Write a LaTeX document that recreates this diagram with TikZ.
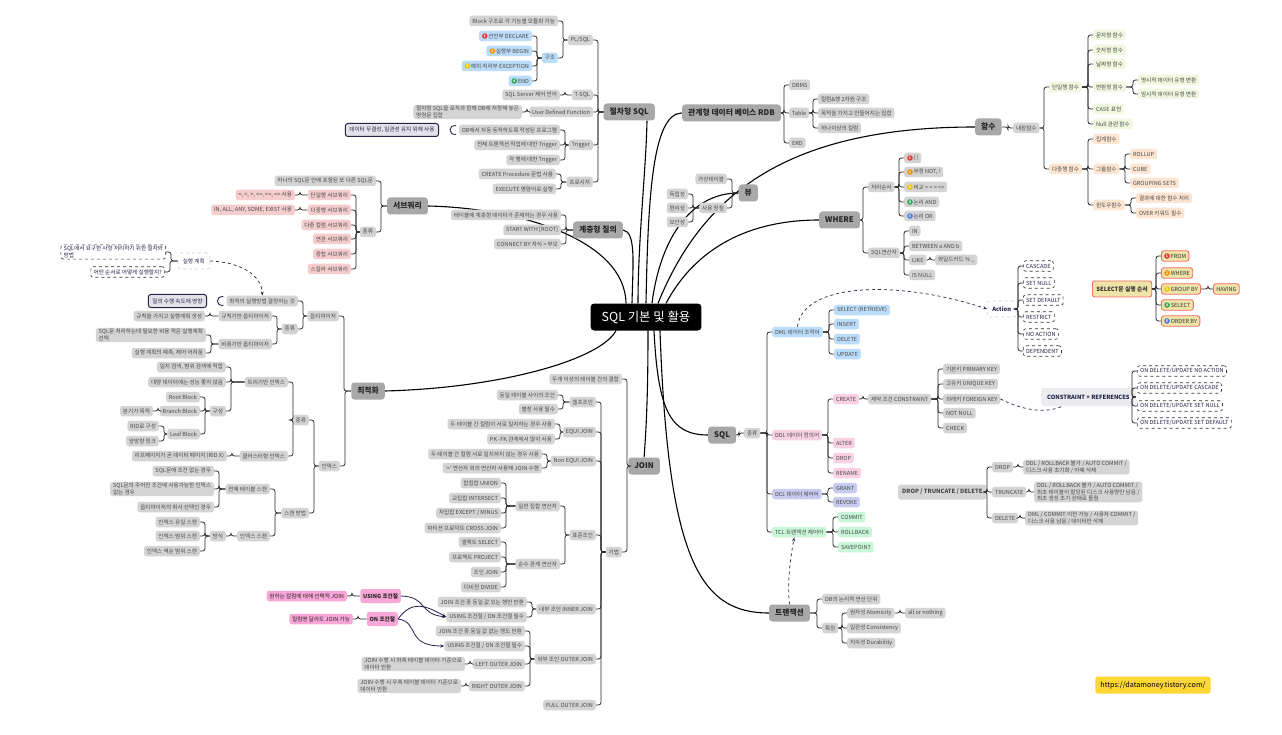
\documentclass[tikz,border=0pt]{standalone}
\usepackage{fontspec}
\setmainfont{Noto Sans CJK KR}
\usetikzlibrary{positioning, arrows.meta, calc}

\definecolor{leafgray}{HTML}{D4D4D4}
\definecolor{topicgray}{HTML}{A8A8A8}
\definecolor{txtgray}{HTML}{474747}
\definecolor{lineblack}{HTML}{2A2A2A}
\definecolor{navy}{HTML}{24244A}
\definecolor{summarygray}{HTML}{E2E2E8}
\definecolor{skyblue}{HTML}{BBDDF9}
\definecolor{rosepink}{HTML}{F5CDCD}
\definecolor{hotpink}{HTML}{F9A6D8}
\definecolor{ddlpink}{HTML}{F9D1E3}
\definecolor{lavender}{HTML}{C8CCEE}
\definecolor{mint}{HTML}{C9F6D8}
\definecolor{limecream}{HTML}{F1F8DF}
\definecolor{peach}{HTML}{FDE5D1}
\definecolor{khaki}{HTML}{EFE4A8}
\definecolor{coral}{HTML}{EF6F66}
\definecolor{urlyellow}{HTML}{FDD835}
\definecolor{paleslate}{HTML}{EBEBF0}
\definecolor{pr1}{HTML}{E53935}
\definecolor{pr2}{HTML}{FB8C00}
\definecolor{pr3}{HTML}{F2C400}
\definecolor{pr4}{HTML}{2EAA5A}
\definecolor{pr5}{HTML}{3F7FE0}

\pgfdeclarelayer{bg}
\pgfsetlayers{bg,main}

\newcommand{\ico}{\hspace*{6.5pt}}

\tikzset{
  leaf/.style={rounded corners=2.5pt, fill=leafgray, text=txtgray, inner xsep=2.8pt, inner ysep=1.2pt,
    minimum height=10.5pt, align=left, font=\fontsize{5.6}{6.6}\selectfont},
  blueleaf/.style={leaf, fill=skyblue},
  pinkleaf/.style={leaf, fill=rosepink},
  hotleaf/.style={leaf, fill=hotpink, text=black!85},
  ddlleaf/.style={leaf, fill=ddlpink},
  dclleaf/.style={leaf, fill=lavender},
  tclleaf/.style={leaf, fill=mint},
  limeleaf/.style={leaf, fill=limecream},
  peachleaf/.style={leaf, fill=peach},
  coralbox/.style={leaf, fill=khaki, draw=coral, line width=0.9pt, text=black!80},
  dashbox/.style={leaf, fill=white, draw=black!80, dashed, line width=0.6pt, text=navy},
  softbox/.style={leaf, fill=white, draw=black!18, dashed, line width=0.6pt, text=navy,
    minimum height=16pt, inner xsep=5pt},
  navybox/.style={leaf, fill=summarygray, draw=navy, line width=1pt, text=navy,
    minimum height=13pt, inner xsep=4pt},
  topic/.style={rounded corners=3pt, fill=topicgray, text=black!85, inner xsep=6pt,
    minimum height=17pt, font=\fontsize{7.8}{9}\selectfont\bfseries},
  root/.style={rounded corners=3.5pt, fill=black, text=white, inner xsep=11pt,
    minimum height=27pt, font=\fontsize{12.4}{14}\selectfont},
  prio/.style={circle, inner sep=0pt, minimum size=5.6pt, text=white,
    font=\fontsize{3.6}{4}\selectfont\bfseries},
  branch/.style={draw=lineblack, line width=0.8pt, rounded corners=2.5pt},
  trunk/.style={draw=black, line width=1.1pt},
  linkdash/.style={draw=navy, dashed, line width=0.7pt, -{Stealth[length=4pt,width=3pt]}},
  linkarrow/.style={draw=navy, line width=0.8pt, -{Stealth[length=4pt,width=3pt]}},
  brace/.style={draw=navy, line width=0.9pt},
}

\begin{document}
\begin{tikzpicture}[x=1pt, y=-1pt]
\begin{pgfonlayer}{bg}
    \fill[white] (0,0) rectangle (1282,735);
\end{pgfonlayer}
\useasboundingbox (0,0) rectangle (1282,735);

% centre
\node[root] (sql) at (646,317) {SQL 기본 및 활용};

% main topics
\node[topic, anchor=east] (proc) at (655,112) {절차형 SQL};
\node[topic, anchor=east] (sub) at (428,206) {서브쿼리};
\node[topic, anchor=east] (hier) at (623,230) {계층형 질의};
\node[topic, anchor=east] (opt) at (385,391) {최적화};
\node[topic, anchor=east] (join) at (660,466) {JOIN};
\node[topic, anchor=east] (view) at (758,193) {뷰};
\node[topic, anchor=west] (rdb) at (682,113) {관계형 데이터 베이스 RDB};
\node[topic, anchor=west] (func) at (975,127) {함수};
\node[topic, anchor=west] (where) at (819,220) {WHERE};
\node[topic, anchor=west] (sqlt) at (708,435) {SQL};
\node[topic, anchor=west] (tx) at (769,613) {트랜잭션};

% procedural sql
\node[leaf, anchor=east] (plsql) at (593,40) {PL/SQL};
\node[leaf, anchor=east] (tsql) at (593,95) {T-SQL};
\node[leaf, anchor=east] (udf) at (593,112) {User Defined Function};
\node[leaf, anchor=east] (trig) at (593,145) {Trigger};
\node[leaf, anchor=east] (prcd) at (593,182) {프로시저};
\node[leaf, anchor=east] (blk) at (558,21) {Block 구조로 각 기능별 모듈화 가능};
\node[blueleaf, anchor=east] (struct) at (558,58) {구조};
\node[blueleaf, anchor=east] (decl) at (532,36) {\ico 선언부 DECLARE};
\node[blueleaf, anchor=east] (beg) at (532,51) {\ico 실행부 BEGIN};
\node[blueleaf, anchor=east] (excp) at (532,66) {\ico 예외 처리부 EXCEPTION};
\node[blueleaf, anchor=east] (endb) at (532,81) {\ico END};
\node[leaf, anchor=east] (sqlsrv) at (560,95) {SQL Server 제어 언어};
\node[leaf, anchor=east] (udfdef) at (522,112) {절차형 SQL을 로직과 함께 DB에 저장해 놓은\\명령문 집합};
\node[leaf, anchor=east] (trgA) at (560,130) {DB에서 자동 동작하도록 작성된 프로그램};
\node[leaf, anchor=east] (trgB) at (560,145) {전체 트랜잭션 작업에 대한 Trigger};
\node[leaf, anchor=east] (trgC) at (560,160) {각 행에 대한 Trigger};
\node[leaf, anchor=east] (prcA) at (556,174) {CREATE Procedure 문법 사용};
\node[leaf, anchor=east] (prcB) at (556,189) {EXECUTE 명령어로 실행};
\node[navybox, anchor=east] (integ) at (439,130) {데이터 무결성, 일관성 유지 위해 사용};

% subquery
\node[leaf, anchor=east] (subA) at (376,181) {하나의 SQL문 안에 포함된 또 다른 SQL문};
\node[leaf, anchor=east] (subK) at (376,232) {종류};
\node[pinkleaf, anchor=east] (single) at (351,195) {단일행 서브쿼리};
\node[pinkleaf, anchor=east] (multi) at (351,210) {다중행 서브쿼리};
\node[pinkleaf, anchor=east] (mcol) at (351,225) {다중 컬럼 서브쿼리};
\node[pinkleaf, anchor=east] (corr) at (351,239) {연관 서브쿼리};
\node[pinkleaf, anchor=east] (nest) at (351,254) {중첩 서브쿼리};
\node[pinkleaf, anchor=east] (scal) at (351,269) {스칼라 서브쿼리};
\node[pinkleaf, anchor=east] (singleOp) at (295,195) {=, <, >, <=, >=, <> 사용};
\node[pinkleaf, anchor=east] (multiOp) at (295,210) {IN, ALL, ANY, SOME, EXIST 사용};

% hierarchical query
\node[leaf, anchor=east] (hA) at (561,215) {테이블에 계층형 데이터가 존재하는 경우 사용};
\node[leaf, anchor=east] (hB) at (561,230) {START WITH [ROOT]};
\node[leaf, anchor=east] (hC) at (561,244) {CONNECT BY 자식 = 부모};

% optimisation
\node[leaf, anchor=east] (optz) at (339,316) {옵티마이저};
\node[leaf, anchor=east] (idx) at (340,466) {인덱스};
\node[leaf, anchor=east] (optA) at (298,301) {최적의 실행방법 결정하는 것};
\node[leaf, anchor=east] (optK) at (298,329) {종류};
\node[leaf, anchor=east] (rule) at (272,316) {규칙기반 옵티마이저};
\node[leaf, anchor=east] (cost) at (272,344) {비용기반 옵티마이저};
\node[leaf, anchor=east] (ruleA) at (205,316) {규칙을 가지고 실행계획 생성};
\node[leaf, anchor=east] (costA) at (206,335) {SQL문 처리하는데 필요한 비용 적은 실행계획\\선택};
\node[leaf, anchor=east] (costB) at (206,353) {실행 계획의 예측, 제어 어려움};
\node[navybox, anchor=east] (speed) at (207,301) {질의 수행 속도에 영향};
\node[softbox, anchor=east] (plan) at (210,261) {실행 계획};
\node[dashbox, anchor=east] (planA) at (166,252) {SQL에서 요구한 사항 처리하기 위한 절차와\\방법};
\node[dashbox, anchor=east] (planB) at (165,272) {어떤 순서로 어떻게 실행할지?};

\node[leaf, anchor=east] (idxK) at (309,420) {종류};
\node[leaf, anchor=east] (scan) at (309,513) {스캔 방법};
\node[leaf, anchor=east] (tree) at (288,382) {트리기반 인덱스};
\node[leaf, anchor=east] (clus) at (288,456) {클러스터형 인덱스};
\node[leaf, anchor=east] (treeA) at (226,367) {일치 검색, 범위 검색에 적합};
\node[leaf, anchor=east] (treeB) at (226,382) {대량 데이터에는 성능 좋지 않음};
\node[leaf, anchor=east] (comp) at (226,411) {구성};
\node[leaf, anchor=east] (rootblk) at (200,397) {Root Block};
\node[leaf, anchor=east] (brn) at (200,411) {Branch Block};
\node[leaf, anchor=east] (leafb) at (200,434) {Leaf Block};
\node[leaf, anchor=east] (brnA) at (153,411) {분기가 목적};
\node[leaf, anchor=east] (leafA) at (159,426) {RID로 구성};
\node[leaf, anchor=east] (leafB) at (159,441) {양방향 링크};
\node[leaf, anchor=east] (clusA) at (227,456) {리프페이지가 곧 데이터 페이지 (RID X)};
\node[leaf, anchor=east] (full) at (270,489) {전체 테이블 스캔};
\node[leaf, anchor=east] (iscan) at (270,536) {인덱스 스캔};
\node[leaf, anchor=east] (fullA) at (214,471) {SQL문에 조건 없는 경우};
\node[leaf, anchor=east] (fullB) at (214,489) {SQL문의 주어진 조건에 사용가능한 인덱스\\없는 경우};
\node[leaf, anchor=east] (fullC) at (214,507) {옵티마이저의 취사 선택인 경우};
\node[leaf, anchor=east] (way) at (226,536) {방식};
\node[leaf, anchor=east] (wayA) at (200,522) {인덱스 유일 스캔};
\node[leaf, anchor=east] (wayB) at (200,536) {인덱스 범위 스캔};
\node[leaf, anchor=east] (wayC) at (200,551) {인덱스 역순 범위 스캔};

% join
\node[leaf, anchor=east] (jA) at (622,379) {두개 이상의 테이블 간의 결합};
\node[leaf, anchor=east] (tech) at (622,552) {기법};
\node[leaf, anchor=east] (self) at (596,402) {셀프조인};
\node[leaf, anchor=east] (equi) at (596,432) {EQUI JOIN};
\node[leaf, anchor=east] (nequi) at (596,461) {Non EQUI JOIN};
\node[leaf, anchor=east] (std) at (596,535) {표준조인};
\node[leaf, anchor=east] (inner) at (596,609) {내부 조인 INNER JOIN};
\node[leaf, anchor=east] (outer) at (596,659) {외부 조인 OUTER JOIN};
\node[leaf, anchor=east] (fouter) at (596,705) {FULL OUTER JOIN};
\node[leaf, anchor=east] (selfA) at (558,395) {동일 테이블 사이의 조인};
\node[leaf, anchor=east] (selfB) at (558,409) {별칭 사용 필수};
\node[leaf, anchor=east] (equiA) at (555,424) {두 테이블 간 컬럼이 서로 일치하는 경우 사용};
\node[leaf, anchor=east] (equiB) at (555,439) {PK -FK 관계에서 많이 사용};
\node[leaf, anchor=east] (nequiA) at (542,454) {두 테이블 간 컬럼 서로 일치하지 않는 경우 사용};
\node[leaf, anchor=east] (nequiB) at (542,468) {'=' 연산자 외의 연산자 사용해 JOIN 수행};
\node[leaf, anchor=east] (gset) at (560,506) {일반 집합 연산자};
\node[leaf, anchor=east] (prel) at (560,564) {순수 관계 연산자};
\node[leaf, anchor=east] (uni) at (501,483) {합집합 UNION};
\node[leaf, anchor=east] (inter) at (501,498) {교집합 INTERSECT};
\node[leaf, anchor=east] (minus) at (501,513) {차집합 EXCEPT / MINUS};
\node[leaf, anchor=east] (cross) at (501,528) {파티션 프로덕트 CROSS JOIN};
\node[leaf, anchor=east] (selr) at (501,542) {셀렉트 SELECT};
\node[leaf, anchor=east] (proj) at (501,557) {프로젝트 PROJECT};
\node[leaf, anchor=east] (joinr) at (501,572) {조인 JOIN};
\node[leaf, anchor=east] (divr) at (501,587) {디비전 DIVIDE};
\node[leaf, anchor=east] (innA) at (527,602) {JOIN 조건 중 동일 값 있는 행만 반환};
\node[leaf, anchor=east] (innB) at (527,617) {USING 조건절 / ON 조건절 필수};
\node[leaf, anchor=east] (outA) at (525,631) {JOIN 조건 중 동일 값 없는 행도 반환};
\node[leaf, anchor=east] (outB) at (525,646) {USING 조건절 / ON 조건절 필수};
\node[leaf, anchor=east] (lout) at (525,664) {LEFT OUTER JOIN};
\node[leaf, anchor=east] (rout) at (525,686) {RIGHT OUTER JOIN};
\node[leaf, anchor=east] (loutA) at (465,664) {JOIN 수행 시 좌측 테이블 데이터 기준으로\\데이터 반환};
\node[leaf, anchor=east] (routA) at (461,686) {JOIN 수행 시 우측 테이블 데이터 기준으로\\데이터 반환};
\node[hotleaf, anchor=east, minimum height=14pt, font=\fontsize{5.6}{6.6}\selectfont\bfseries] (using) at (401,596) {USING 조건절};
\node[hotleaf, anchor=east, minimum height=14pt, font=\fontsize{5.6}{6.6}\selectfont\bfseries] (on) at (398,619) {ON 조건절};
\node[hotleaf, anchor=east] (usingA) at (347,596) {원하는 컬럼에 대해 선택적 JOIN};
\node[hotleaf, anchor=east] (onA) at (353,619) {컬럼명 달라도 JOIN 가능};

% view
\node[leaf, anchor=east] (virt) at (727,179) {가상테이블};
\node[leaf, anchor=east] (adv) at (727,208) {사용 장점};
\node[leaf, anchor=east] (indep) at (688,194) {독립성};
\node[leaf, anchor=east] (conv) at (688,208) {편리성};
\node[leaf, anchor=east] (secu) at (688,222) {보안성};

% rdb
\node[leaf, anchor=west] (dbms) at (789,85) {DBMS};
\node[leaf, anchor=west] (tbl) at (789,113) {Table};
\node[leaf, anchor=west] (erd) at (789,143) {ERD};
\node[leaf, anchor=west] (tblA) at (818,99) {컬럼\&행 2차원 구조};
\node[leaf, anchor=west] (tblB) at (818,113) {목적을 가지고 만들어지는 집합};
\node[leaf, anchor=west] (tblC) at (818,128) {하나이상의 컬럼};

% functions
\node[leaf, anchor=west] (builtin) at (1013,128) {내장함수};
\node[limeleaf, anchor=west] (srow) at (1049,87) {단일행 함수};
\node[peachleaf, anchor=west] (mrow) at (1049,169) {다중행 함수};
\node[limeleaf, anchor=west] (strf) at (1093,35) {문자형 함수};
\node[limeleaf, anchor=west] (numf) at (1093,50) {숫자형 함수};
\node[limeleaf, anchor=west] (datef) at (1093,64) {날짜형 함수};
\node[limeleaf, anchor=west] (convf) at (1093,87) {변환형 함수};
\node[limeleaf, anchor=west] (casef) at (1093,109) {CASE 표현};
\node[limeleaf, anchor=west] (nullf) at (1093,124) {Null 관련 함수};
\node[limeleaf, anchor=west] (expl) at (1138,80) {명시적 데이터 유형 변환};
\node[limeleaf, anchor=west] (impl) at (1138,94) {암시적 데이터 유형 변환};
\node[peachleaf, anchor=west] (aggf) at (1093,139) {집계함수};
\node[peachleaf, anchor=west] (grpf) at (1093,169) {그룹함수};
\node[peachleaf, anchor=west] (winf) at (1093,205) {윈도우함수};
\node[peachleaf, anchor=west] (rollup) at (1130,154) {ROLLUP};
\node[peachleaf, anchor=west] (cube) at (1130,169) {CUBE};
\node[peachleaf, anchor=west] (gsets) at (1130,183) {GROUPING SETS};
\node[peachleaf, anchor=west] (winA) at (1136,198) {결과에 대한 함수 처리};
\node[peachleaf, anchor=west] (winB) at (1136,213) {OVER 키워드 필수};

% where
\node[leaf, anchor=west] (order) at (868,187) {처리순서};
\node[leaf, anchor=west] (sqlop) at (868,253) {SQL연산자};
\node[leaf, anchor=west] (paren) at (904,158) {\ico ( )};
\node[leaf, anchor=west] (notop) at (904,172) {\ico 부정 NOT, !};
\node[leaf, anchor=west] (cmp) at (904,187) {\ico 비교 > < = <>};
\node[leaf, anchor=west] (andop) at (904,202) {\ico 논리 AND};
\node[leaf, anchor=west] (orop) at (904,216) {\ico 논리 OR};
\node[leaf, anchor=west] (inop) at (909,231) {IN};
\node[leaf, anchor=west] (betw) at (909,246) {BETWEEN a AND b};
\node[leaf, anchor=west] (like) at (909,260) {LIKE};
\node[leaf, anchor=west] (isnull) at (909,275) {IS NULL};
\node[leaf, anchor=west] (wild) at (935,260) {와일드카드 \% \_};

% select order
\node[coralbox, anchor=west, minimum height=16pt, inner xsep=4pt, font=\fontsize{5.8}{6.8}\selectfont\bfseries] (selord) at (1092,289) {SELECT문 실행 순서};
\node[coralbox, anchor=west] (sFrom) at (1161,256) {\ico FROM};
\node[coralbox, anchor=west] (sWhere) at (1161,273) {\ico WHERE};
\node[coralbox, anchor=west] (sGroup) at (1161,289) {\ico GROUP BY};
\node[coralbox, anchor=west] (sSelect) at (1161,305) {\ico SELECT};
\node[coralbox, anchor=west] (sOrder) at (1161,321) {\ico ORDER BY};
\node[coralbox, anchor=west] (sHaving) at (1213,289) {HAVING};

% sql languages
\node[leaf, anchor=west] (sqlk) at (744,433) {종류};
\node[blueleaf, anchor=west] (dml) at (772,332) {DML 데이터 조작어};
\node[ddlleaf, anchor=west] (ddl) at (772,435) {DDL 데이터 정의어};
\node[dclleaf, anchor=west] (dcl) at (772,494) {DCL 데이터 제어어};
\node[tclleaf, anchor=west] (tcl) at (772,532) {TCL 트랜잭션 제어어};
\node[blueleaf, anchor=west] (dsel) at (834,310) {SELECT (RETRIEVE)};
\node[blueleaf, anchor=west] (dins) at (834,324) {INSERT};
\node[blueleaf, anchor=west] (ddel) at (834,339) {DELETE};
\node[blueleaf, anchor=west] (dupd) at (834,354) {UPDATE};
\node[ddlleaf, anchor=west] (create) at (833,399) {CREATE};
\node[ddlleaf, anchor=west] (alter) at (833,443) {ALTER};
\node[ddlleaf, anchor=west] (drop) at (833,458) {DROP};
\node[ddlleaf, anchor=west] (rename) at (833,473) {RENAME};
\node[leaf, anchor=west] (cons) at (868,399) {제약 조건 CONSTRAINT};
\node[leaf, anchor=west] (pk) at (943,369) {기본키 PRIMARY KEY};
\node[leaf, anchor=west] (uk) at (943,384) {고유키 UNIQUE KEY};
\node[leaf, anchor=west] (fk) at (943,399) {외래키 FOREIGN KEY};
\node[leaf, anchor=west] (nn) at (943,413) {NOT NULL};
\node[leaf, anchor=west] (chk) at (943,428) {CHECK};
\node[dclleaf, anchor=west] (grant) at (833,488) {GRANT};
\node[dclleaf, anchor=west] (revoke) at (833,502) {REVOKE};
\node[tclleaf, anchor=west] (commit) at (838,517) {COMMIT};
\node[tclleaf, anchor=west] (rollback) at (838,532) {ROLLBACK};
\node[tclleaf, anchor=west] (savep) at (838,547) {SAVEPOINT};

\node[softbox, anchor=west, font=\fontsize{5.8}{6.8}\selectfont\bfseries] (action) at (987,309) {Action};
\node[dashbox, anchor=west] (aCasc) at (1023,266) {CASCADE};
\node[dashbox, anchor=west] (aNull) at (1023,283) {SET NULL};
\node[dashbox, anchor=west] (aDef) at (1023,300) {SET DEFAULT};
\node[dashbox, anchor=west] (aRes) at (1023,317) {RESTRICT};
\node[dashbox, anchor=west] (aNo) at (1023,334) {NO ACTION};
\node[dashbox, anchor=west] (aDep) at (1023,351) {DEPENDENT};

\node[leaf, anchor=west, fill=paleslate, text=navy, minimum height=18pt, inner xsep=6pt, font=\fontsize{5.8}{6.8}\selectfont\bfseries] (cref) at (1041,397) {CONSTRAINT + REFERENCES};
\node[dashbox, anchor=west] (rNo) at (1137,371) {ON DELETE/UPDATE NO ACTION};
\node[dashbox, anchor=west] (rCasc) at (1137,388) {ON DELETE/UPDATE CASCADE};
\node[dashbox, anchor=west] (rNull) at (1137,406) {ON DELETE/UPDATE SET NULL};
\node[dashbox, anchor=west] (rDef) at (1137,423) {ON DELETE/UPDATE SET DEFAULT};

\node[leaf, anchor=west, minimum height=15pt, inner xsep=4pt, font=\fontsize{5.8}{6.8}\selectfont\bfseries] (dtd) at (898,492) {DROP / TRUNCATE / DELETE};
\node[leaf, anchor=west] (dDrop) at (992,467) {DROP};
\node[leaf, anchor=west] (dTrunc) at (992,492) {TRUNCATE};
\node[leaf, anchor=west] (dDel) at (992,518) {DELETE};
\node[leaf, anchor=west] (dDropA) at (1023,467) {DDL / ROLLBACK 불가 / AUTO COMMIT /\\디스크 사용 초기화 / 아예 삭제};
\node[leaf, anchor=west] (dTruncA) at (1034,492) {DDL / ROLLBACK 불가 / AUTO COMMIT /\\최초 테이블이 할당된 디스크 사용량만 남음 /\\최초 생성 초기 상태로 돌림};
\node[leaf, anchor=west] (dDelA) at (1025,518) {DML / COMMIT 이전 가능 / 사용자 COMMIT /\\디스크 사용 남음 / 데이터만 삭제};

% transaction
\node[leaf, anchor=west] (txA) at (822,599) {DB의 논리적 연산 단위};
\node[leaf, anchor=west] (feat) at (822,628) {특징};
\node[leaf, anchor=west] (atom) at (847,613) {원자성 Atomicity};
\node[leaf, anchor=west] (cons2) at (847,628) {일관성 Consistency};
\node[leaf, anchor=west] (dura) at (847,643) {지속성 Durability};
\node[leaf, anchor=west] (atomA) at (905,613) {all or nothing};

% url
\node[leaf, fill=urlyellow, text=black, minimum height=17pt, inner xsep=5pt, font=\fontsize{7.2}{8}\selectfont] (url) at (1153,685) {https://datamoney.tistory.com/};

% priority marks
\foreach \n/\col/\k in {decl/pr1/1, beg/pr2/2, excp/pr3/3, endb/pr4/4,
                      paren/pr1/1, notop/pr2/2, cmp/pr3/3, andop/pr4/4, orop/pr5/5,
                      sFrom/pr1/1, sWhere/pr2/2, sGroup/pr3/3, sSelect/pr4/4, sOrder/pr5/5}
{
    \node[prio, fill=\col] (ic\n) at ([xshift=6]\n.west) {\k};
}

% trunk curves
\begin{pgfonlayer}{bg}
    \draw[trunk] ([xshift=-8]sql.north) .. controls (638,240) and (646,170) .. ([xshift=-8]proc.south east);
    \draw[trunk] ([xshift=-14]sql.north) .. controls (633,262) and (636,232) .. (hier.east);
    \draw[trunk] ([xshift=-20]sql.north) .. controls (625,240) and (520,208) .. (sub.east);
    \draw[trunk] (sql.north) .. controls (648,200) and (652,113) .. (rdb.west);
    \draw[trunk] ([xshift=6]sql.north) .. controls (660,240) and (690,193) .. (view.west);
    \draw[trunk] ([xshift=12]sql.north) .. controls (700,200) and (780,127) .. (func.west);
    \draw[trunk] ([xshift=20]sql.north) .. controls (700,240) and (760,220) .. (where.west);
    \draw[trunk] ([xshift=-30]sql.south) .. controls (600,360) and (500,388) .. (opt.east);
    \draw[trunk] ([xshift=2]sql.south) .. controls (648,400) and (646,430) .. (join.north);
    \draw[trunk] ([xshift=8]sql.south) .. controls (658,410) and (670,435) .. (sqlt.west);
    \draw[trunk] ([xshift=14]sql.south) .. controls (668,560) and (700,613) .. (tx.west);
\end{pgfonlayer}

% branches growing to the left
\foreach \kid/\mom in {
    plsql/proc, tsql/proc, udf/proc, trig/proc, prcd/proc,
    blk/plsql, struct/plsql, decl/struct, beg/struct, excp/struct, endb/struct,
    sqlsrv/tsql, udfdef/udf, trgA/trig, trgB/trig, trgC/trig, prcA/prcd, prcB/prcd,
    subA/sub, subK/sub, single/subK, multi/subK, mcol/subK, corr/subK, nest/subK, scal/subK,
    singleOp/single, multiOp/multi,
    hA/hier, hB/hier, hC/hier,
    optz/opt, idx/opt, optA/optz, optK/optz, rule/optK, cost/optK,
    ruleA/rule, costA/cost, costB/cost, planA/plan, planB/plan,
    idxK/idx, scan/idx, tree/idxK, clus/idxK,
    treeA/tree, treeB/tree, comp/tree, rootblk/comp, brn/comp, leafb/comp,
    brnA/brn, leafA/leafb, leafB/leafb, clusA/clus,
    full/scan, iscan/scan, fullA/full, fullB/full, fullC/full,
    way/iscan, wayA/way, wayB/way, wayC/way,
    jA/join, tech/join,
    self/tech, equi/tech, nequi/tech, std/tech, inner/tech, outer/tech, fouter/tech,
    selfA/self, selfB/self, equiA/equi, equiB/equi, nequiA/nequi, nequiB/nequi,
    gset/std, prel/std, uni/gset, inter/gset, minus/gset, cross/gset,
    selr/prel, proj/prel, joinr/prel, divr/prel,
    innA/inner, innB/inner, outA/outer, outB/outer, lout/outer, rout/outer,
    loutA/lout, routA/rout, usingA/using, onA/on,
    virt/view, adv/view, indep/adv, conv/adv, secu/adv}
{
    \draw[branch] (\kid.east) -- ++(5,0) |- (\mom.west);
}

% branches growing to the right
\foreach \kid/\mom in {
    dbms/rdb, tbl/rdb, erd/rdb, tblA/tbl, tblB/tbl, tblC/tbl,
    builtin/func, srow/builtin, mrow/builtin,
    strf/srow, numf/srow, datef/srow, convf/srow, casef/srow, nullf/srow,
    expl/convf, impl/convf, aggf/mrow, grpf/mrow, winf/mrow,
    rollup/grpf, cube/grpf, gsets/grpf, winA/winf, winB/winf,
    order/where, sqlop/where,
    paren/order, notop/order, cmp/order, andop/order, orop/order,
    inop/sqlop, betw/sqlop, like/sqlop, isnull/sqlop, wild/like,
    sFrom/selord, sWhere/selord, sGroup/selord, sSelect/selord, sOrder/selord, sHaving/sGroup,
    sqlk/sqlt, dml/sqlk, ddl/sqlk, dcl/sqlk, tcl/sqlk,
    dsel/dml, dins/dml, ddel/dml, dupd/dml,
    create/ddl, alter/ddl, drop/ddl, rename/ddl,
    cons/create, pk/cons, uk/cons, fk/cons, nn/cons, chk/cons,
    grant/dcl, revoke/dcl, commit/tcl, rollback/tcl, savep/tcl,
    aCasc/action, aNull/action, aDef/action, aRes/action, aNo/action, aDep/action,
    rNo/cref, rCasc/cref, rNull/cref, rDef/cref,
    dDrop/dtd, dTrunc/dtd, dDel/dtd, dDropA/dDrop, dTruncA/dTrunc, dDelA/dDel,
    txA/tx, feat/tx, atom/feat, cons2/feat, dura/feat, atomA/atom}
{
    \draw[branch] (\kid.west) -- ++(-5,0) |- (\mom.east);
}

% summary braces
\coordinate (bt1) at ($(trgA.north west)+(-3,1)$);
\coordinate (bm1) at ($(trgA.west)+(-9,0)$);
\coordinate (bb1) at ($(trgA.south west)+(-3,-1)$);
\draw[brace] (bt1) .. controls +(-4,0) and +(0,-3) .. (bm1) .. controls +(0,3) and +(-4,0) .. (bb1);
\coordinate (bt2) at ($(optA.north west)+(-3,1)$);
\coordinate (bm2) at ($(optA.west)+(-9,0)$);
\coordinate (bb2) at ($(optA.south west)+(-3,-1)$);
\draw[brace] (bt2) .. controls +(-4,0) and +(0,-3) .. (bm2) .. controls +(0,3) and +(-4,0) .. (bb2);

% relations
\draw[linkdash] (plan.east) .. controls (240,262) and (262,275) .. (optA.north);
\draw[linkdash] (dml.north) .. controls (803,282) and (900,280) .. (action.west);
\draw[linkdash, -] (fk.east) .. controls (1022,410) and (1045,414) .. ([xshift=-26]cref.south);
\draw[linkdash] (tx.north) .. controls (787,585) and (790,560) .. ([xshift=-5]tcl.south);
\draw[linkarrow] (using.east) .. controls (428,597) and (418,614) .. (innB.west);
\draw[linkarrow] (on.east) .. controls (412,600) and (425,605) .. (innB.west);
\draw[linkarrow] (on.east) .. controls (420,622) and (405,646) .. (outB.west);

\end{tikzpicture}
\end{document}
